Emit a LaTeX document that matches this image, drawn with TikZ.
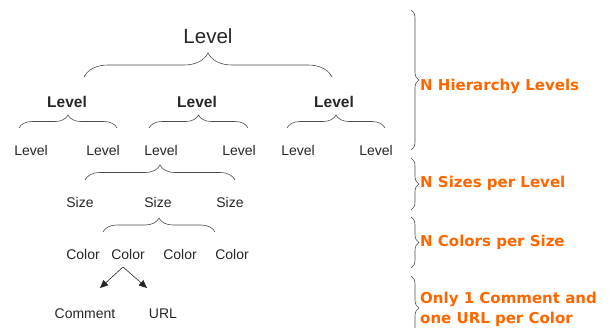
\documentclass[tikz,border=0pt]{standalone}
\usepackage{fontspec}
\setmainfont{Liberation Sans}
\newfontfamily\notefont{DejaVu Sans}
\usetikzlibrary{decorations.pathreplacing,arrows.meta}
\definecolor{noteorange}{RGB}{255,102,0}
\tikzset{
    lvl/.style={anchor=base, text=black!85, font=\fontsize{14}{16}\selectfont, inner sep=0pt},
    lvlbold/.style={lvl, font=\fontsize{15.5}{17}\selectfont\bfseries},
    lvltop/.style={lvl, font=\fontsize{20.5}{22}\selectfont},
    note/.style={anchor=base west, text=noteorange, inner sep=0pt, font=\fontsize{15}{17}\notefont\bfseries},
    brc/.style={draw=black!70, line width=0.6pt, decorate, decoration={brace,amplitude=#1}},
    arr/.style={-{Triangle[length=8pt,width=7pt]}, black!85, line width=0.6pt}
}
\begin{document}
\begin{tikzpicture}[x=1pt, y=-1pt]
    \useasboundingbox (0,0) rectangle (612,327);
    % tree of levels
    \node[lvltop] (top) at (208,43) {Level};
    \draw[brc=24pt] (84,77) -- (332,77);
    \node[lvlbold] (la) at (67,107) {Level};
    \node[lvlbold] (lb) at (197,107) {Level};
    \node[lvlbold] (lc) at (334,107) {Level};
    \draw[brc=13pt] (19,128) -- (117,128);
    \draw[brc=13pt] (149,128) -- (248,128);
    \draw[brc=13pt] (287,128) -- (385,128);
    \node[lvl] (la1) at (31,155) {Level};
    \node[lvl] (la2) at (103,155) {Level};
    \node[lvl] (lb1) at (161,155) {Level};
    \node[lvl] (lb2) at (239,155) {Level};
    \node[lvl] (lc1) at (298,155) {Level};
    \node[lvl] (lc2) at (376,155) {Level};
    % sizes
    \draw[brc=15pt] (85,180) -- (235,180);
    \node[lvl] (s1) at (80,207) {Size};
    \node[lvl] (s2) at (158,207) {Size};
    \node[lvl] (s3) at (230,207) {Size};
    % colors
    \draw[brc=14pt] (103,232) -- (215,232);
    \node[lvl] (c1) at (83,259) {Color};
    \node[lvl] (c2) at (128,259) {Color};
    \node[lvl] (c3) at (180,259) {Color};
    \node[lvl] (c4) at (232,259) {Color};
    % comment and url
    \node[lvl] (cmt) at (85,318) {Comment};
    \node[lvl] (url) at (163,318) {URL};
    \coordinate (split) at (123,267);
    \coordinate (cmtin) at (100,288);
    \coordinate (urlin) at (147,288);
    \draw[arr] (split) -- (cmtin);
    \draw[arr] (split) -- (urlin);
    % right side
    \draw[brc=8pt] (411,10) -- (411,150);
    \draw[brc=8pt] (411,158) -- (411,210);
    \draw[brc=8pt] (411,217) -- (411,268);
    \draw[brc=8pt] (411,276) -- (411,340);
    \node[note] (n1) at (420,90) {N Hierarchy Levels};
    \node[note] (n2) at (420,187) {N Sizes per Level};
    \node[note] (n3) at (420,246) {N Colors per Size};
    \node[note] (n4) at (420,303) {Only 1 Comment and};
    \node[note] (n5) at (420,323) {one URL per Color};
\end{tikzpicture}
\end{document}
